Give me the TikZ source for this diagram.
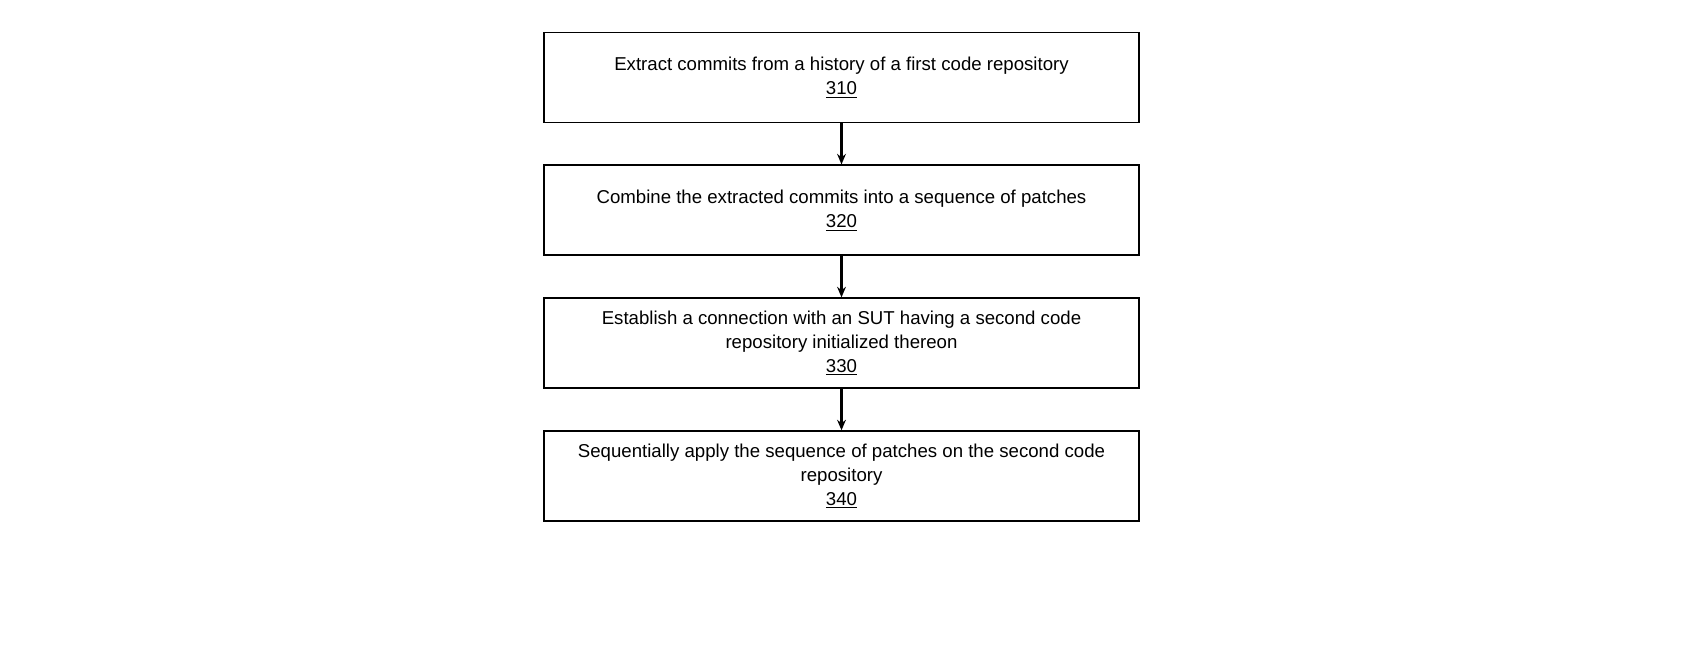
\documentclass[tikz,border=0pt]{standalone}
\usepackage{fontspec}
\setmainfont{Liberation Sans}
\usetikzlibrary{positioning,arrows.meta}
\tikzset{
  stepbox/.style={draw, line width=1.1pt, minimum width=11.9cm, minimum height=1.8cm,
    align=center, font=\fontsize{10.6}{13.6}\selectfont, inner sep=2pt},
  flow/.style={-{Stealth[length=6pt,width=5pt]}, line width=1.4pt}
}
\begin{document}
\begin{tikzpicture}
    \useasboundingbox (0,0) rectangle (34,13);
    % Steps
    \node[stepbox] (s310) at (16.83,11.45) {Extract commits from a history of a first code repository\\\underline{310}};
    \node[stepbox, below=0.82cm of s310] (s320) {Combine the extracted commits into a sequence of patches\\\underline{320}};
    \node[stepbox, below=0.82cm of s320] (s330) {Establish a connection with an SUT having a second code\\repository initialized thereon\\\underline{330}};
    \node[stepbox, below=0.82cm of s330] (s340) {Sequentially apply the sequence of patches on the second code\\repository\\\underline{340}};

    % Arrows
    \draw[flow] (s310) -- (s320);
    \draw[flow] (s320) -- (s330);
    \draw[flow] (s330) -- (s340);
\end{tikzpicture}
\end{document}
